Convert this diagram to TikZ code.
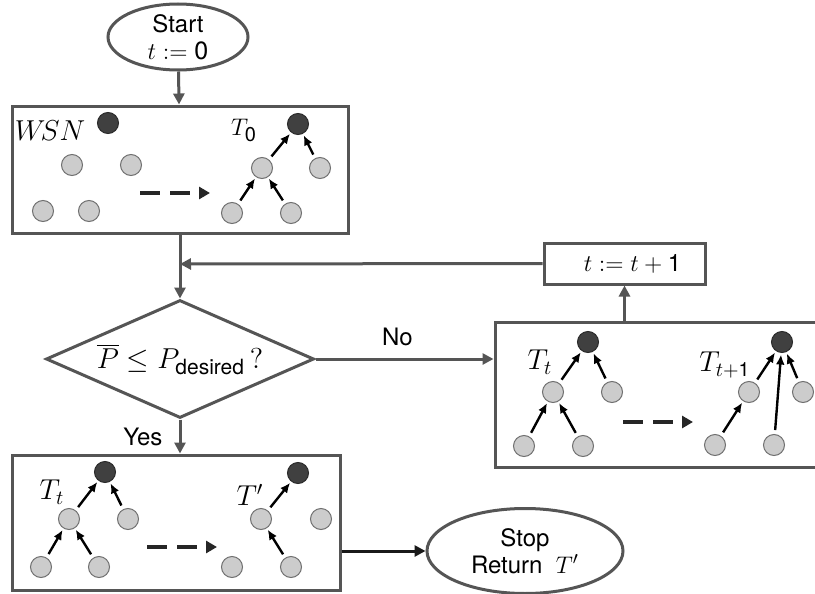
\documentclass[tikz,border=0pt]{standalone}
\usepackage{amsmath}
\usepackage{fontspec}
\setmainfont{TeX Gyre Heros}
\usetikzlibrary{arrows.meta,shapes.geometric}
\definecolor{linegray}{HTML}{555555}
\definecolor{nodegray}{HTML}{CCCCCC}
\definecolor{nodeedge}{HTML}{707070}
\definecolor{darknode}{HTML}{404040}
\definecolor{darkedge}{HTML}{2A2A2A}
\tikzset{
  flow/.style={draw=linegray, line width=1.5pt},
  arr/.style={flow, -{Triangle[length=5.5pt,width=5.5pt]}},
  blackarr/.style={draw=black!90, line width=1.5pt, -{Triangle[length=5.5pt,width=5.5pt]}},
  box/.style={draw=linegray, line width=1.5pt, inner sep=0pt},
  gn/.style={circle, draw=nodeedge, fill=nodegray, line width=0.5pt, minimum size=10.5pt, inner sep=0pt},
  dn/.style={circle, draw=darkedge, fill=darknode, line width=0.5pt, minimum size=10.5pt, inner sep=0pt},
  tarr/.style={draw=black, line width=1.2pt, -{Latex[length=5pt,width=4.4pt]}, shorten <=2pt, shorten >=0.8pt},
  darr/.style={draw=black!85, line width=1.8pt, dash pattern=on 10pt off 5pt, -{Triangle[length=5.5pt,width=6pt]}},
  lbl/.style={inner sep=0pt, font=\fontsize{14}{16}\selectfont},
  every node/.append style={font=\fontsize{12}{14.4}\selectfont}
}
\begin{document}
\begin{tikzpicture}[x=0.5pt,y=-0.5pt]
\useasboundingbox (0,0) rectangle (815,594);
\clip (0,0) rectangle (815,594);
\fill[white] (0,0) rectangle (815,594);

% Start
\node[ellipse, draw=linegray, line width=1.5pt, minimum width=70pt, minimum height=33pt, inner sep=0pt, align=center] (start) at (178,37) {Start\\[-1pt]\fontsize{12.5}{14}\selectfont$t := \text{0}$};

% Box 1
\node[box, minimum width=168pt, minimum height=63.5pt] (b1) at (180,169.5) {};
\node[lbl, font=\fontsize{13.5}{16}\selectfont] (wsn) at (50,131) {$W\!SN$};
\node[dn] (w0) at (108,123) {};
\node[gn] (w1) at (72,165) {};
\node[gn] (w2) at (131,165) {};
\node[gn] (w3) at (43,211) {};
\node[gn] (w4) at (89,211) {};
\coordinate (d1a) at (140,193);
\coordinate (d1b) at (210,193);
\draw[darr] (d1a) -- (d1b);
\node[lbl, font=\fontsize{12.5}{15}\selectfont] (t0) at (244,130) {$T_{\hbox{\fontsize{10}{12}\selectfont 0}}$};
\node[dn] (a0) at (298,124) {};
\node[gn] (a1) at (262,168) {};
\node[gn] (a2) at (320,168) {};
\node[gn] (a3) at (232,213) {};
\node[gn] (a4) at (291,213) {};
\draw[tarr] (a1) -- (a0);
\draw[tarr] (a2) -- (a0);
\draw[tarr] (a3) -- (a1);
\draw[tarr] (a4) -- (a1);

% merge point and diamond
\coordinate (m) at (180,264);
\node[diamond, draw=linegray, line width=1.5pt, aspect=2.27, minimum width=134pt, minimum height=59pt, inner sep=0pt] (dia) at (180,359) {\fontsize{13.5}{16}\selectfont$\overline{P}\le P_{\hbox{\fontsize{10.5}{12}\selectfont desired}}\,?$};

% increment box
\node[box, minimum width=80.5pt, minimum height=20.5pt] (inc) at (624.5,263.5) {\hspace*{8pt}$t := t + \text{1}$};

% Box 3 (right)
\node[box, minimum width=167.5pt, minimum height=72.5pt] (b3) at (662.5,394.5) {};
\node[lbl] (tt3) at (540,362) {$T_t$};
\node[dn] (c0) at (588,342) {};
\node[gn] (c1) at (553,392) {};
\node[gn] (c2) at (612,392) {};
\node[gn] (c3) at (524,446) {};
\node[gn] (c4) at (583,446) {};
\draw[tarr] (c1) -- (c0);
\draw[tarr] (c2) -- (c0);
\draw[tarr] (c3) -- (c1);
\draw[tarr] (c4) -- (c1);
\coordinate (d3a) at (623,422);
\coordinate (d3b) at (693,422);
\draw[darr] (d3a) -- (d3b);
\node[lbl] (tt31) at (725,365) {$T_{t+\text{1}}$};
\node[dn] (e0) at (782,342) {};
\node[gn] (e1) at (749,392) {};
\node[gn] (e2) at (803,392) {};
\node[gn] (e3) at (715,445) {};
\node[gn] (e4) at (774,445) {};
\draw[tarr] (e1) -- (e0);
\draw[tarr] (e2) -- (e0);
\draw[tarr] (e4) -- (e0);
\draw[tarr] (e3) -- (e1);

% Box 4 (bottom)
\node[box, minimum width=164pt, minimum height=67.5pt] (b4) at (176,522.5) {};
\node[lbl] (tt4) at (52,492) {$T_t$};
\node[dn] (f0) at (105,472) {};
\node[gn] (f1) at (69,519) {};
\node[gn] (f2) at (128,519) {};
\node[gn] (f3) at (41,567) {};
\node[gn] (f4) at (99,567) {};
\draw[tarr] (f1) -- (f0);
\draw[tarr] (f2) -- (f0);
\draw[tarr] (f3) -- (f1);
\draw[tarr] (f4) -- (f1);
\coordinate (d4a) at (147,547);
\coordinate (d4b) at (217,547);
\draw[darr] (d4a) -- (d4b);
\node[lbl] (tp) at (250,495) {$T'$};
\node[dn] (g0) at (298,473) {};
\node[gn] (g1) at (261,519) {};
\node[gn] (g2) at (321,519) {};
\node[gn] (g3) at (232,567) {};
\node[gn] (g4) at (291,567) {};
\draw[tarr] (g1) -- (g0);
\draw[tarr] (g4) -- (g1);

% Stop
\node[ellipse, draw=linegray, line width=1.5pt, minimum width=98pt, minimum height=42.5pt, inner sep=0pt, align=center] (stop) at (525,551) {Stop\\[-1pt]Return\ \ {\fontsize{13}{15}\selectfont$T'$}};

% connectors
\draw[arr] (start) -- (b1);
\draw[flow] (b1.south) -- (m);
\draw[arr] (m) -- (dia.north);
\draw[arr] (inc.west) -- (m);
\draw[arr] (dia.east) -- (dia.east -| b3.west) node[pos=0.46, above=6pt, inner sep=0pt] (no) {No};
\draw[arr] (dia.south) -- (dia.south |- b4.north) node[pos=0.5, left=8pt, inner sep=0pt] (yes) {Yes};
\draw[arr] (b3.north -| inc.south) -- (inc.south);
\draw[blackarr] (stop.west -| b4.east) -- (stop.west);
\end{tikzpicture}
\end{document}
